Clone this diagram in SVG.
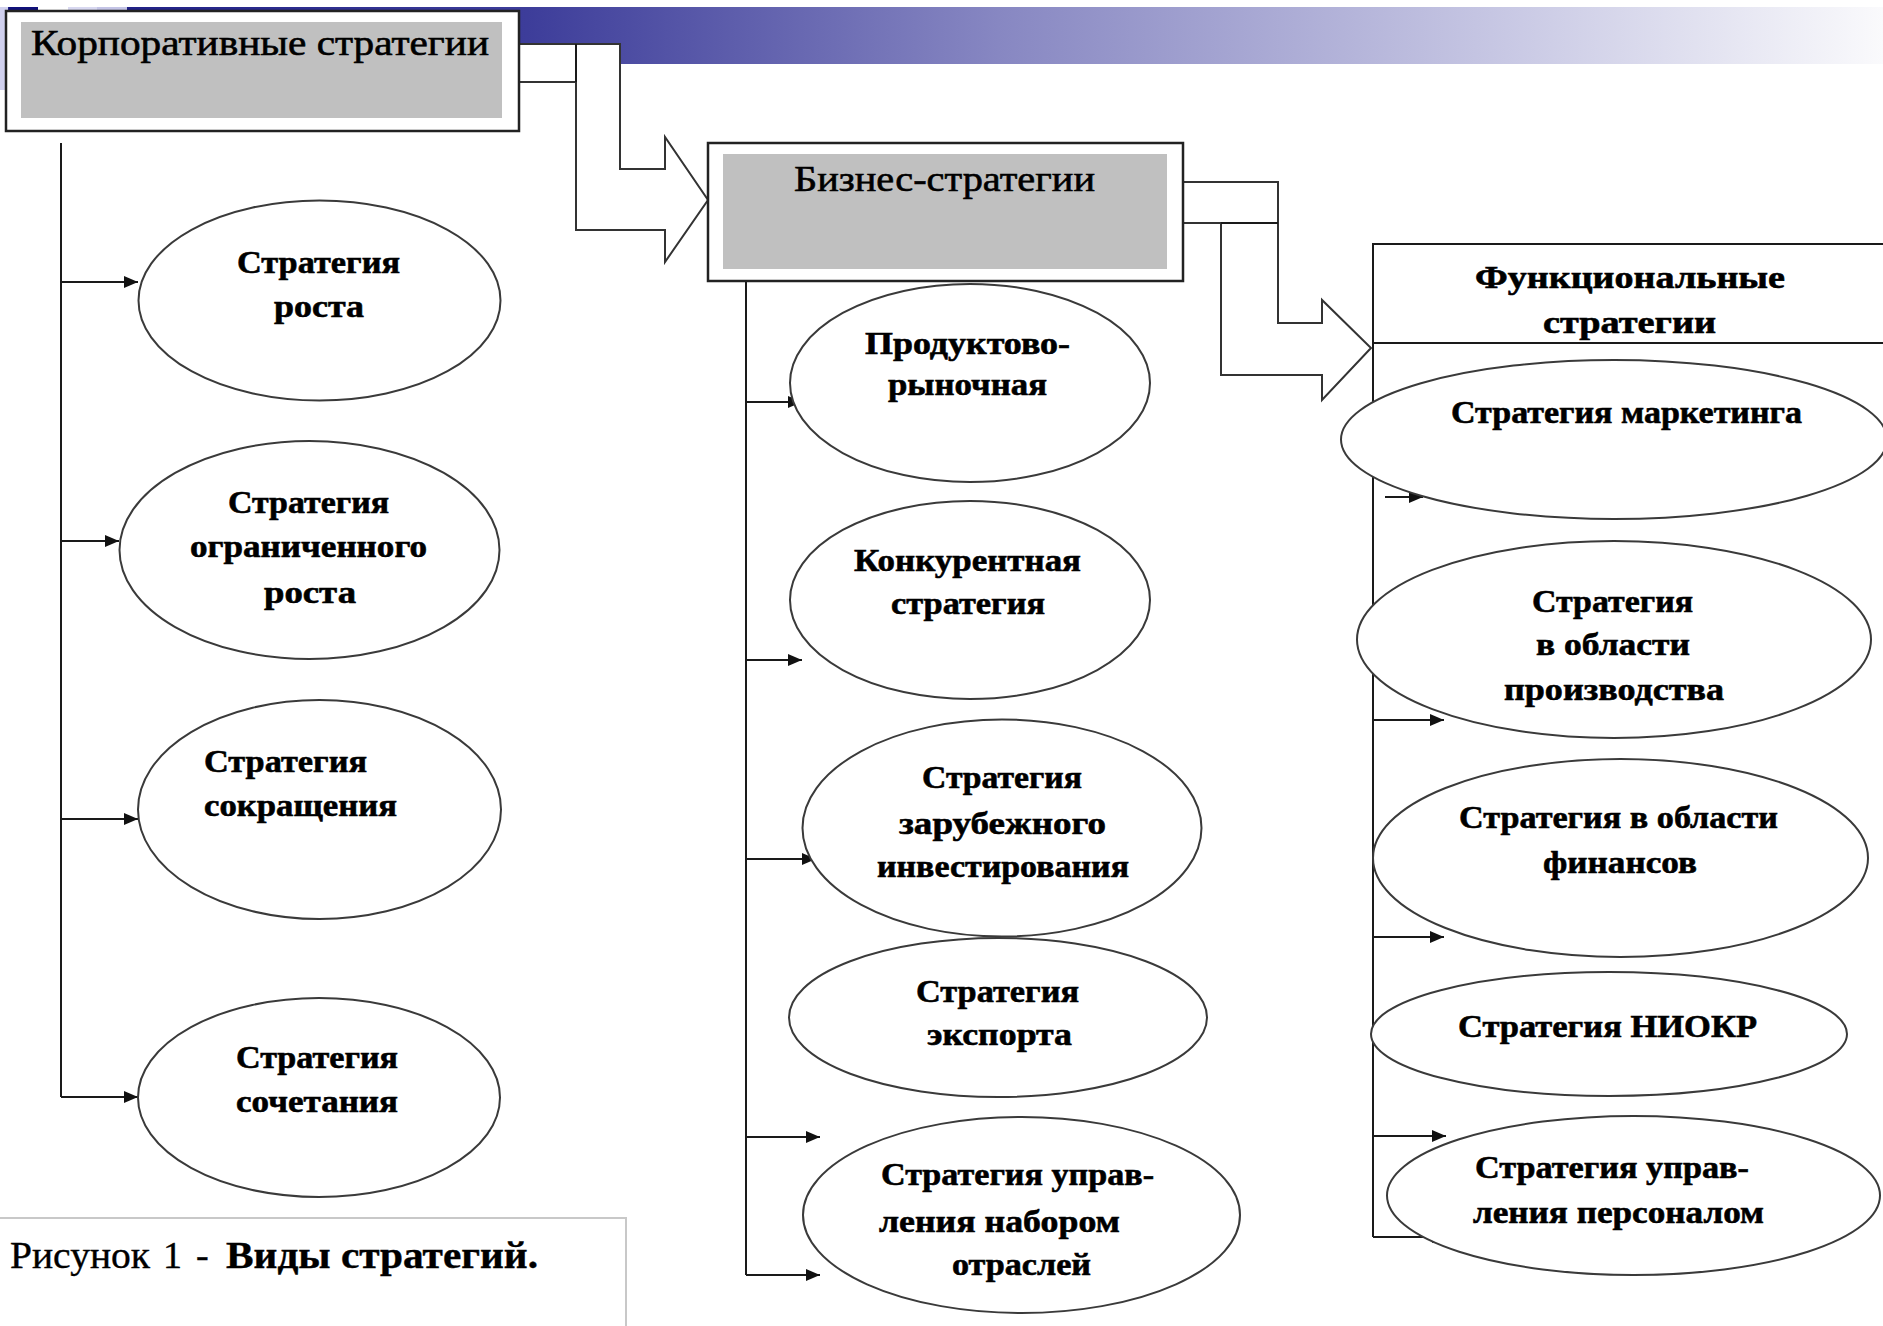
<svg xmlns="http://www.w3.org/2000/svg" width="1883" height="1326" viewBox="0 0 1883 1326">
<defs>
<linearGradient id="band" gradientUnits="userSpaceOnUse" x1="0" y1="0" x2="1883" y2="0">
<stop offset="0.05" stop-color="#1f1f85"/>
<stop offset="0.28" stop-color="#3d3d9a"/>
<stop offset="0.53" stop-color="#8787c2"/>
<stop offset="0.8" stop-color="#c8c8e4"/>
<stop offset="1" stop-color="#fafafc"/>
</linearGradient>
<marker id="ah" viewBox="0 0 14 12" refX="14" refY="6" markerWidth="14" markerHeight="12" markerUnits="userSpaceOnUse" orient="auto">
<path d="M0,0 L14,6 L0,12 z" fill="#111"/>
</marker>
<style>
.ln{stroke:#1a1a1a;stroke-width:2;fill:none}
.ar{stroke:#1a1a1a;stroke-width:2;fill:none;marker-end:url(#ah)}
.hollow{fill:#fff;stroke:#333;stroke-width:2;stroke-linejoin:miter}
.ell{fill:#fff;stroke:#3a3a3a;stroke-width:2}
.box{fill:#fff;stroke:#222;stroke-width:2.5}
.gray{fill:#c0c0c0}
.h{font-family:"Liberation Serif","Times New Roman",serif;font-size:36px;fill:#000;stroke:#000;stroke-width:0.6}
.t{font-family:"Liberation Serif","Times New Roman",serif;font-weight:bold;font-size:32px;fill:#000;stroke:#000;stroke-width:0.6}
.cap{font-family:"Liberation Serif","Times New Roman",serif;font-size:38px;fill:#000;stroke:#000;stroke-width:0.4}
</style>
</defs>
<rect width="1883" height="1326" fill="#fff"/>
<g id="banner">
<rect x="0" y="7" width="1883" height="57" fill="url(#band)"/>
<rect x="0" y="7" width="8" height="83" fill="#d0d0ee"/>
<rect x="9" y="7" width="29" height="20" fill="#10107a"/>
<rect x="38" y="7" width="30" height="20" fill="#ffffff"/>
<rect x="68" y="7" width="29" height="20" fill="#d8d8f0"/>
<rect x="97" y="7" width="30" height="20" fill="#c4c4e6"/>
</g>
<g id="connectors">
<polygon class="hollow" points="519,44 620,44 620,169 665,169 665,137 708,200 665,262 665,230 576,230 576,82 519,82"/>
<line class="ln" x1="576" y1="44" x2="576" y2="82"/>
<polygon class="hollow" points="1183,182 1278,182 1278,323 1322,323 1322,300 1371,348 1322,400 1322,375 1221,375 1221,223 1183,223"/>
<line class="ln" x1="1221" y1="223" x2="1278" y2="223"/>
<polyline class="ln" points="61,143 61,1097"/>
<line class="ar" x1="61" y1="282" x2="138" y2="282"/>
<line class="ar" x1="61" y1="541" x2="119" y2="541"/>
<line class="ar" x1="61" y1="819" x2="138" y2="819"/>
<line class="ar" x1="61" y1="1097" x2="138" y2="1097"/>
<polyline class="ln" points="746,281 746,1275"/>
<line class="ar" x1="746" y1="402" x2="802" y2="402"/>
<line class="ar" x1="746" y1="660" x2="802" y2="660"/>
<line class="ar" x1="746" y1="859" x2="816" y2="859"/>
<line class="ar" x1="746" y1="1137" x2="820" y2="1137"/>
<line class="ar" x1="746" y1="1275" x2="820" y2="1275"/>
<polyline class="ln" points="1373,244 1373,1237"/>
<line class="ar" x1="1385" y1="497" x2="1423" y2="497"/>
<line class="ar" x1="1373" y1="720" x2="1444" y2="720"/>
<line class="ar" x1="1373" y1="937" x2="1444" y2="937"/>
<line class="ar" x1="1373" y1="1136" x2="1446" y2="1136"/>
<line class="ar" x1="1373" y1="1237" x2="1446" y2="1237"/>
</g>
<g id="corporate">
<rect class="box" x="6" y="11" width="513" height="120"/>
<rect class="gray" x="21" y="22" width="481" height="96"/>
<text class="h" x="31" y="55" textLength="458" lengthAdjust="spacingAndGlyphs">Корпоративные стратегии</text>
</g>
<g id="business">
<rect class="box" x="708" y="143" width="475" height="138"/>
<rect class="gray" x="723" y="154" width="444" height="115"/>
<text class="h" x="794" y="191" textLength="301" lengthAdjust="spacingAndGlyphs">Бизнес-стратегии</text>
</g>
<g id="functional">
<line class="ln" x1="1372" y1="244" x2="1883" y2="244"/>
<line class="ln" x1="1372" y1="343" x2="1883" y2="343"/>
<text class="t" x="1475" y="288" textLength="310" lengthAdjust="spacingAndGlyphs">Функциональные</text>
<text class="t" x="1543" y="333" textLength="173" lengthAdjust="spacingAndGlyphs">стратегии</text>
</g>
<g id="growth">
<ellipse class="ell" cx="319.5" cy="300.5" rx="181" ry="100"/>
<text class="t" x="237" y="273" textLength="163" lengthAdjust="spacingAndGlyphs">Стратегия</text>
<text class="t" x="274" y="317" textLength="90" lengthAdjust="spacingAndGlyphs">роста</text>
</g>
<g id="limited-growth">
<ellipse class="ell" cx="309.5" cy="550" rx="190" ry="109"/>
<text class="t" x="228" y="513" textLength="161" lengthAdjust="spacingAndGlyphs">Стратегия</text>
<text class="t" x="190" y="557" textLength="237" lengthAdjust="spacingAndGlyphs">ограниченного</text>
<text class="t" x="264" y="603" textLength="92" lengthAdjust="spacingAndGlyphs">роста</text>
</g>
<g id="reduction">
<ellipse class="ell" cx="319.5" cy="809.5" rx="181.5" ry="109.5"/>
<text class="t" x="204" y="772" textLength="163" lengthAdjust="spacingAndGlyphs">Стратегия</text>
<text class="t" x="204" y="816" textLength="193" lengthAdjust="spacingAndGlyphs">сокращения</text>
</g>
<g id="combination">
<ellipse class="ell" cx="319" cy="1097.5" rx="181" ry="99.5"/>
<text class="t" x="236" y="1068" textLength="162" lengthAdjust="spacingAndGlyphs">Стратегия</text>
<text class="t" x="236" y="1112" textLength="162" lengthAdjust="spacingAndGlyphs">сочетания</text>
</g>
<g id="product-market">
<ellipse class="ell" cx="970" cy="383" rx="180" ry="99"/>
<text class="t" x="865" y="354" textLength="205" lengthAdjust="spacingAndGlyphs">Продуктово-</text>
<text class="t" x="888" y="395" textLength="159" lengthAdjust="spacingAndGlyphs">рыночная</text>
</g>
<g id="competitive">
<ellipse class="ell" cx="970" cy="600" rx="180" ry="99"/>
<text class="t" x="854" y="571" textLength="227" lengthAdjust="spacingAndGlyphs">Конкурентная</text>
<text class="t" x="891" y="614" textLength="154" lengthAdjust="spacingAndGlyphs">стратегия</text>
</g>
<g id="foreign-investment">
<ellipse class="ell" cx="1002" cy="828" rx="199.5" ry="108.5"/>
<text class="t" x="922" y="788" textLength="160" lengthAdjust="spacingAndGlyphs">Стратегия</text>
<text class="t" x="899" y="834" textLength="207" lengthAdjust="spacingAndGlyphs">зарубежного</text>
<text class="t" x="877" y="877" textLength="252" lengthAdjust="spacingAndGlyphs">инвестирования</text>
</g>
<g id="export">
<ellipse class="ell" cx="998" cy="1017.5" rx="209" ry="79.5"/>
<text class="t" x="916" y="1002" textLength="163" lengthAdjust="spacingAndGlyphs">Стратегия</text>
<text class="t" x="927" y="1045" textLength="145" lengthAdjust="spacingAndGlyphs">экспорта</text>
</g>
<g id="portfolio">
<ellipse class="ell" cx="1021.5" cy="1215" rx="218.5" ry="98"/>
<text class="t" x="881" y="1185" textLength="273" lengthAdjust="spacingAndGlyphs">Стратегия управ-</text>
<text class="t" x="879" y="1232" textLength="241" lengthAdjust="spacingAndGlyphs">ления набором</text>
<text class="t" x="952" y="1275" textLength="139" lengthAdjust="spacingAndGlyphs">отраслей</text>
</g>
<g id="marketing">
<ellipse class="ell" cx="1614" cy="439.5" rx="273" ry="79.5"/>
<text class="t" x="1451" y="423" textLength="351" lengthAdjust="spacingAndGlyphs">Стратегия маркетинга</text>
</g>
<g id="production">
<ellipse class="ell" cx="1614" cy="639.5" rx="257" ry="98.5"/>
<text class="t" x="1532" y="612" textLength="161" lengthAdjust="spacingAndGlyphs">Стратегия</text>
<text class="t" x="1536" y="655" textLength="154" lengthAdjust="spacingAndGlyphs">в области</text>
<text class="t" x="1504" y="700" textLength="220" lengthAdjust="spacingAndGlyphs">производства</text>
</g>
<g id="finance">
<ellipse class="ell" cx="1620.5" cy="858" rx="247.5" ry="99"/>
<text class="t" x="1459" y="828" textLength="319" lengthAdjust="spacingAndGlyphs">Стратегия в области</text>
<text class="t" x="1543" y="873" textLength="154" lengthAdjust="spacingAndGlyphs">финансов</text>
</g>
<g id="rnd">
<ellipse class="ell" cx="1609" cy="1034" rx="238" ry="62"/>
<text class="t" x="1458" y="1037" textLength="299" lengthAdjust="spacingAndGlyphs">Стратегия НИОКР</text>
</g>
<g id="personnel">
<ellipse class="ell" cx="1633.5" cy="1195.5" rx="246.5" ry="79.5"/>
<text class="t" x="1475" y="1178" textLength="274" lengthAdjust="spacingAndGlyphs">Стратегия управ-</text>
<text class="t" x="1473" y="1223" textLength="291" lengthAdjust="spacingAndGlyphs">ления персоналом</text>
</g>
<g id="caption">
<polyline points="0,1218 626,1218 626,1326" fill="none" stroke="#c8c8c8" stroke-width="2"/>
<text class="cap" x="10" y="1268" textLength="140" lengthAdjust="spacingAndGlyphs">Рисунок</text>
<text class="cap" x="163" y="1268">1</text>
<text class="cap" x="196" y="1268">-</text>
<text class="cap" x="226" y="1268" font-weight="bold" textLength="312" lengthAdjust="spacingAndGlyphs">Виды стратегий.</text>
</g>
</svg>
